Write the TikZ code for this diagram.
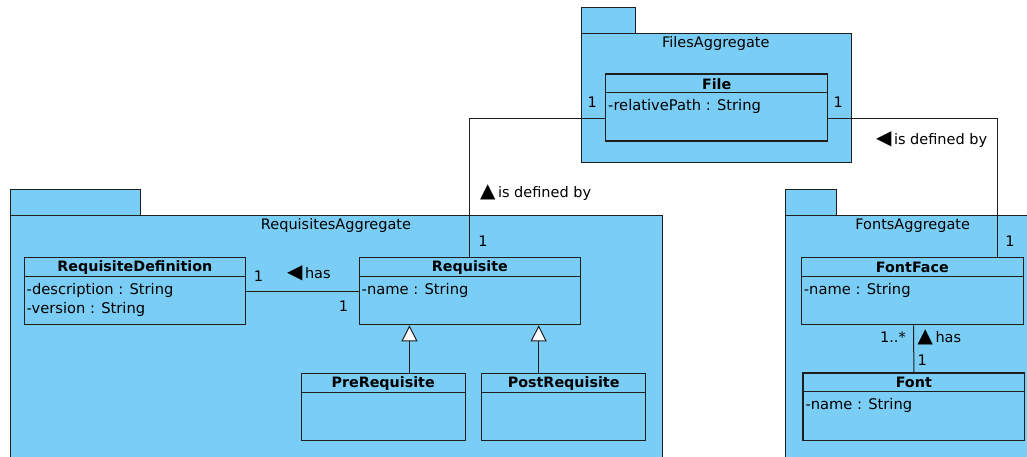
\documentclass[tikz,border=0pt]{standalone}
\usepackage{fontspec}
\setmainfont{DejaVu Sans}
\usetikzlibrary{arrows.meta}
\definecolor{pkgblue}{RGB}{122,206,245}
\definecolor{edge}{RGB}{30,30,30}
\newcommand{\tri}[1]{{\fontsize{20}{17}\selectfont #1}}

\begin{document}
\begin{tikzpicture}[x=1pt,y=-1pt,
  pkg/.style={draw=edge, fill=pkgblue, line width=1pt, rectangle, inner sep=0pt, anchor=north west},
  classbox/.style={draw=edge, fill=pkgblue, line width=1.3pt, rectangle, inner sep=0pt, anchor=north west},
  divider/.style={draw=edge, line width=1.3pt},
  cname/.style={font=\fontsize{14.3}{16}\selectfont\bfseries, inner sep=0pt},
  ptitle/.style={font=\fontsize{14.5}{17}\selectfont, inner sep=0pt},
  attr/.style={font=\fontsize{14.7}{17}\selectfont, anchor=west, inner sep=0pt},
  lbl/.style={font=\fontsize{14.5}{17}\selectfont, inner sep=0pt},
  assoc/.style={draw=edge, line width=1pt},
  gen/.style={draw=edge, line width=1pt, -{Triangle[open,length=16pt,width=16pt,fill=white]}},
]
\useasboundingbox (0,0) rectangle (1027,457);
\clip (0,0) rectangle (1027,457);

% ---------- packages ----------
\node[pkg, minimum width=270.3, minimum height=129] (filespkg) at (580.7,33.3) {};
\node[pkg, minimum width=54, minimum height=26] (filestab) at (580.7,7.3) {};
\node[ptitle] (filestitle) at (715.8,43.5) {FilesAggregate};

\node[pkg, minimum width=652, minimum height=260] (reqpkg) at (10,215) {};
\node[pkg, minimum width=129.5, minimum height=25.7] (reqtab) at (10,189.3) {};
\node[ptitle] (reqtitle) at (336,225.7) {RequisitesAggregate};

\node[pkg, minimum width=255, minimum height=260] (fontpkg) at (785.3,215) {};
\node[pkg, minimum width=50.4, minimum height=25.7] (fonttab) at (785.3,189.3) {};
\node[ptitle] (fonttitle) at (912.7,225.7) {FontsAggregate};

% ---------- classes ----------
% File
\node[classbox, minimum width=222, minimum height=67] (file) at (605,73.3) {};
\draw[divider] ([yshift=-19.4pt]file.north west) -- ([yshift=-19.4pt]file.north east);
\node[cname] (filename) at ([yshift=-10.5pt]file.north) {File};
\node[attr] (fileattr) at ([xshift=3pt,yshift=-33.5pt]file.north west) {-relativePath : String};

% RequisiteDefinition
\node[classbox, minimum width=221.5, minimum height=67] (rdef) at (23.5,257) {};
\draw[divider] ([yshift=-19.4pt]rdef.north west) -- ([yshift=-19.4pt]rdef.north east);
\node[cname] (rdefname) at ([yshift=-10.5pt]rdef.north) {RequisiteDefinition};
\node[attr] (rdefattra) at ([xshift=3pt,yshift=-33.5pt]rdef.north west) {-description : String};
\node[attr] (rdefattrb) at ([xshift=3pt,yshift=-52.5pt]rdef.north west) {-version : String};

% Requisite
\node[classbox, minimum width=221.5, minimum height=67] (req) at (358.5,257) {};
\draw[divider] ([yshift=-19.4pt]req.north west) -- ([yshift=-19.4pt]req.north east);
\node[cname] (reqname) at ([yshift=-10.5pt]req.north) {Requisite};
\node[attr] (reqattr) at ([xshift=3pt,yshift=-33.5pt]req.north west) {-name : String};

% PreRequisite
\node[classbox, minimum width=164, minimum height=67] (pre) at (300.5,373) {};
\draw[divider] ([yshift=-19.4pt]pre.north west) -- ([yshift=-19.4pt]pre.north east);
\node[cname] (prename) at ([yshift=-10.5pt]pre.north) {PreRequisite};

% PostRequisite
\node[classbox, minimum width=164, minimum height=67] (post) at (481,373) {};
\draw[divider] ([yshift=-19.4pt]post.north west) -- ([yshift=-19.4pt]post.north east);
\node[cname] (postname) at ([yshift=-10.5pt]post.north) {PostRequisite};

% FontFace
\node[classbox, minimum width=222, minimum height=67] (ff) at (800.7,257) {};
\draw[divider] ([yshift=-19.4pt]ff.north west) -- ([yshift=-19.4pt]ff.north east);
\node[cname] (ffname) at ([yshift=-10.5pt]ff.north) {FontFace};
\node[attr] (ffattr) at ([xshift=3pt,yshift=-33.5pt]ff.north west) {-name : String};

% Font
\node[classbox, minimum width=221.7, minimum height=67.7] (font) at (802.3,372.3) {};
\draw[divider] ([yshift=-19.4pt]font.north west) -- ([yshift=-19.4pt]font.north east);
\node[cname] (fontname) at ([yshift=-10.5pt]font.north) {Font};
\node[attr] (fontattr) at ([xshift=3pt,yshift=-33.5pt]font.north west) {-name : String};

% ---------- connectors ----------
\draw[assoc] ([yshift=-11.5pt]file.west) -| (req.north);
\draw[assoc] ([yshift=-11.5pt]file.east) -| ([xshift=85.3pt]ff.north);
\draw[assoc] (rdef.east) -- (req.west);
\draw[assoc] ([xshift=1.3pt]ff.south) -- (font.north);
\draw[gen] ([xshift=26.3pt]pre.north) -- ([xshift=26.3pt]pre.north |- req.south);
\draw[gen] ([xshift=-25pt]post.north) -- ([xshift=-25pt]post.north |- req.south);

% ---------- labels ----------
\node[lbl] (m1) at (592.3,102) {1};
\node[lbl] (m2) at (838.3,102) {1};
\node[lbl, anchor=west] (l1) at (876,139.3) {\tri{◀}\,is defined by};
\node[lbl, anchor=west] (l2) at (480,192.7) {\tri{▲}\,is defined by};
\node[lbl] (m3) at (483,241) {1};
\node[lbl] (m4) at (258.5,276.7) {1};
\node[lbl, anchor=west] (l3) at (287,273.7) {\tri{◀}\,has};
\node[lbl] (m5) at (343.6,306) {1};
\node[lbl] (m6) at (1010,241) {1};
\node[lbl, anchor=east] (m7) at (906,337.3) {1..*};
\node[lbl, anchor=west] (l4) at (917.5,337) {\tri{▲}\,has};
\node[lbl] (m8) at (922.3,360) {1};
\end{tikzpicture}
\end{document}
